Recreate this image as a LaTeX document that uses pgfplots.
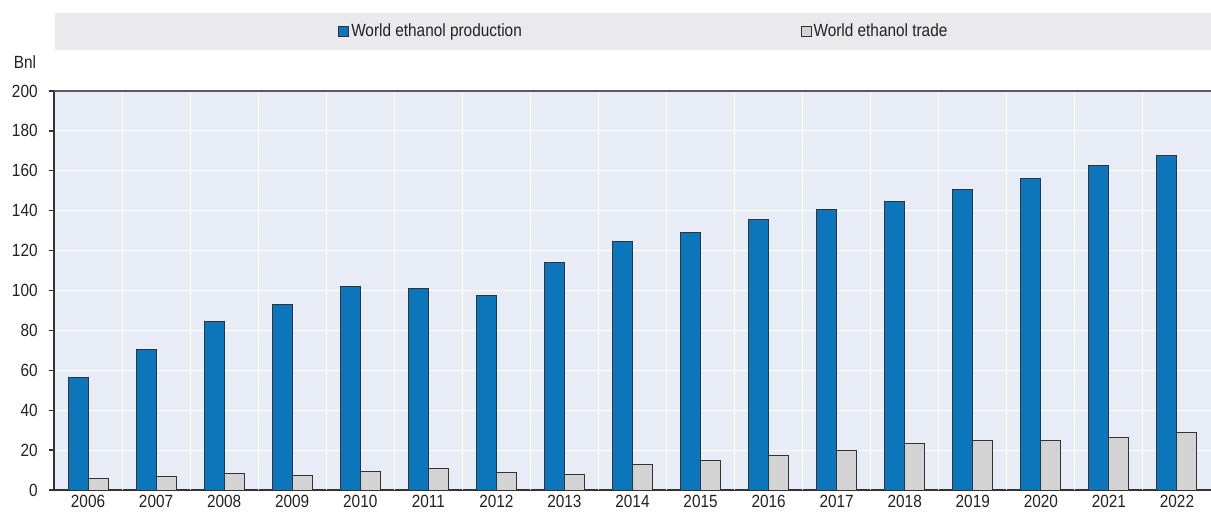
\documentclass[border=0pt]{standalone}
\usepackage{pgfplots}
\pgfplotsset{compat=1.18}
\usepackage{fontspec}
\setmainfont{Liberation Sans}[FakeStretch=0.87]
\definecolor{oblue}{RGB}{12,118,188}
\definecolor{ogray}{RGB}{211,211,211}
\definecolor{bg}{RGB}{232,236,247}
\definecolor{band}{RGB}{234,234,236}
\definecolor{axisc}{RGB}{51,51,51}
\definecolor{txt}{RGB}{34,34,34}
\begin{document}
\begin{tikzpicture}[font=\fontsize{13.25}{16}\selectfont]
\path[use as bounding box] (-40.5pt,-15.75pt) rectangle (867.75pt,367.5pt);
\fill[band] (0.75pt,330pt) rectangle (867.75pt,357.75pt);
\begin{axis}[
  at={(0,0)}, anchor=south west,
  scale only axis, width=867.75pt, height=299.25pt,
  xmin=-0.5, xmax=16.5, ymin=0, ymax=200,
  ybar=0pt, bar width=15pt,
  clip=false,
  axis background/.style={fill=bg},
  axis lines*=left,
  axis line style={draw=axisc, line width=1.5pt},
  xtick={0,...,16},
  xticklabels={2006,2007,2008,2009,2010,2011,2012,2013,2014,2015,2016,2017,2018,2019,2020,2021,2022},
  x tick style={draw=none},
  extra x ticks={0.5,1.5,...,15.5},
  extra x tick labels={},
  extra x tick style={grid=major, tick align=inside, major tick length=3.75pt, tick style={draw=axisc, line width=1pt}},
  ytick={0,20,...,200},
  ymajorgrids,
  tick align=outside,
  major tick length=3.75pt,
  y tick style={draw=axisc, line width=1pt},
  major grid style={draw=white, line width=0.75pt},
  tick label style={text=txt},
  /pgf/number format/assume math mode=true,
  yticklabel style={xshift=-5pt},
  xticklabel style={yshift=3.5pt},
  every axis plot/.append style={draw=axisc, line width=0.75pt},
  legend columns=2,
  legend style={at={(axis description cs:0.242,1.149)}, anchor=west, draw=none, fill=none,
    /tikz/every even column/.append style={column sep=207.5pt},
    nodes={inner sep=1.5pt, text=txt}},
  legend image code/.code={\draw[#1, draw=axisc, line width=0.75pt] (0pt,-3.75pt) rectangle (7.5pt,3.75pt);},
]
\addplot[fill=oblue] coordinates {(0,56.3) (1,70.3) (2,84.5) (3,93.0) (4,101.8) (5,101.1) (6,97.3) (7,113.9) (8,124.6) (9,128.9) (10,135.4) (11,140.8) (12,144.8) (13,150.8) (14,155.9) (15,162.6) (16,167.5)};
\addplot[fill=ogray] coordinates {(0,5.9) (1,6.9) (2,8.4) (3,7.1) (4,9.3) (5,10.7) (6,8.8) (7,8.0) (8,12.6) (9,14.6) (10,17.3) (11,19.8) (12,23.1) (13,24.8) (14,24.8) (15,26.2) (16,28.9)};
\legend{World ethanol production, World ethanol trade}
\draw[draw=axisc!80, line width=1pt] (rel axis cs:0,1) -- (rel axis cs:1,1);
\node[text=txt] at (rel axis cs:0,1) [xshift=-21.75pt, yshift=21.75pt] {Bnl};
\end{axis}
\end{tikzpicture}
\end{document}
